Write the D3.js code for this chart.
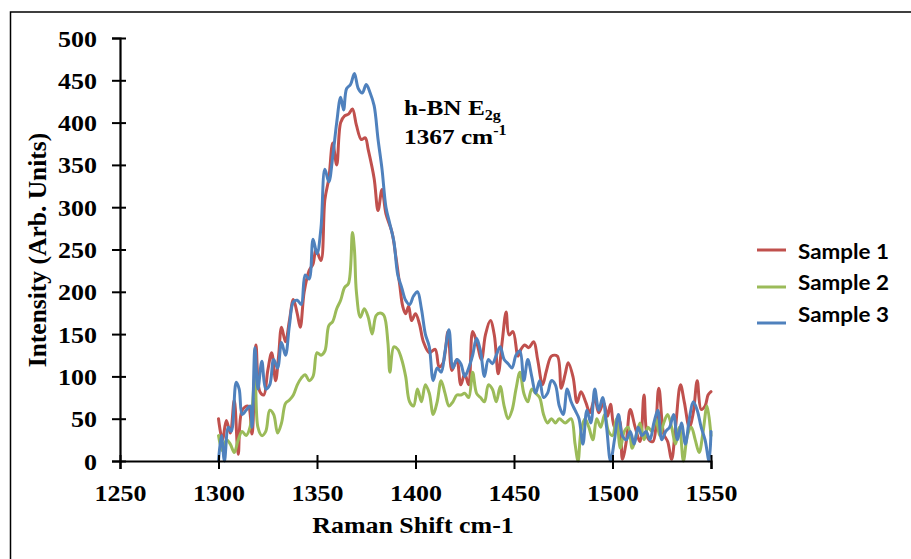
<!DOCTYPE html>
<html>
<head>
<meta charset="utf-8">
<script src="https://cdn.jsdelivr.net/npm/d3@7"></script>
<style>
  body { margin: 0; background: #fff; }
  svg { display: block; }
</style>
</head>
<body>
<svg id="chart" width="911" height="559"></svg>
<script>
// ---- data ----
const sample1Shift = [1300,1302,1304,1306,1308,1310,1312,1315,1317,1319,1321,1323,1325,1327,1329,1330.5,1332,1334,1336,1338,1340,1341.5,1343.5,1346,1348,1349.5,1352,1354,1356,1358,1360,1362,1364,1366,1368,1370,1372.5,1374.5,1376,1379,1381,1383,1385,1388,1390,1392,1393.5,1395,1396.5,1398,1400,1402,1404,1407,1410,1412,1414,1416.5,1418.5,1421,1423,1425,1427,1429,1431,1433.5,1435.5,1438,1440,1442,1444,1446,1447.5,1449.5,1452,1453.5,1455.5,1457.5,1460,1462,1464.5,1466.5,1469,1472,1474,1476,1477.5,1480,1482,1484,1486.5,1488.5,1491,1493,1495.5,1497.5,1499,1501,1503.5,1505,1507,1509,1511.5,1514,1516,1518,1520.5,1523.5,1526,1528,1530,1532,1534.5,1536.5,1539,1541,1543,1545,1547,1548.5,1550];
const sample1Intensity = [50,25,48,33,72,8,60,65,32,137,82,78,107,128,95,124,158,141,166,191,174,158,200,225,233,250,237,309,334,376,350,400,408,410,416,397,380,382,368,334,296,321,292,271,242,208,183,174,183,166,174,162,141,128,132,111,116,153,107,120,90,103,90,153,141,120,149,166,149,103,141,176,149,153,124,132,137,134,141,120,90,107,124,124,86,103,116,99,69,82,69,57,74,57,69,53,67,40,48,2,23,61,40,23,78,27,23,86,32,23,2,40,90,69,40,57,95,61,65,78,82];

const sample2Shift = [1300,1302,1304,1306,1308,1310,1312,1314,1316,1318.5,1320,1322,1324,1326,1328,1330,1332,1334,1336,1338,1340,1342,1344,1346,1348,1350,1352,1354,1356,1358,1360,1362,1364,1366,1368,1369,1370,1372,1374,1376,1378,1380,1382,1384,1386,1387,1389,1391,1393,1395,1397,1399,1401,1403,1405,1407,1409,1411,1413,1415,1417,1419,1421,1423,1425,1427,1429,1431,1433,1435,1437,1439,1441,1443,1445,1447,1449,1451,1453,1455,1457,1459,1461,1463,1465,1467,1469,1471,1473,1476,1479,1481,1482.5,1484,1486,1488,1490,1492,1494,1496,1498,1500,1502,1504,1506,1508,1510,1512,1514,1516,1518,1520,1522,1524,1526,1528,1530,1532,1534,1536,1538,1540,1542,1544,1546,1548,1550];
const sample2Intensity = [30,12,25,20,10,25,35,30,40,100,40,30,35,60,55,33,45,68,72,78,90,98,102,95,100,128,125,130,160,165,180,190,205,210,270,250,200,170,180,170,150,172,175,172,140,105,135,132,120,100,70,65,85,70,90,80,55,70,95,80,65,70,78,78,80,75,105,80,75,70,90,85,70,88,65,50,60,85,105,80,70,85,80,75,55,45,50,45,50,45,50,20,0,35,50,40,25,50,40,55,35,30,50,15,35,40,15,30,45,25,40,35,50,30,45,55,40,20,40,0,30,40,25,10,35,65,30];

const sample3Shift = [1300,1301.5,1303,1305,1306.5,1309,1310.5,1312,1314,1316,1317,1318.5,1320,1322,1324,1326,1328,1330,1332,1334,1336,1338,1340,1342,1344,1346,1348,1350,1352,1354,1356,1358,1360,1362,1363.5,1365,1367,1369,1371,1373,1375,1377,1379,1381,1383,1385,1387,1389,1391,1393,1395,1397,1399,1401,1403,1405,1407,1409,1411,1413,1415,1417,1419,1421,1423,1425,1427,1429,1431,1433,1435,1437,1439,1441,1443,1445,1447,1449,1451,1453,1455,1457,1459,1461,1463,1465,1467,1469,1471,1473,1475,1477,1479,1481,1483,1485,1487,1489,1491,1493,1495,1497,1499,1501,1503,1505,1507,1509,1511,1513,1515,1517,1519,1521,1523,1525,1527,1529,1531,1533,1535,1537,1539,1541,1543,1545,1547,1549,1550];
const sample3Intensity = [0,30,0,40,35,93,85,55,60,65,40,134,85,118,85,90,120,110,140,125,160,188,190,185,220,215,262,245,275,345,330,360,400,430,415,440,445,458,440,435,445,435,420,380,345,300,280,260,220,205,190,185,195,200,180,150,135,95,110,105,130,155,110,120,115,100,110,125,145,130,100,120,115,125,135,120,115,110,125,130,95,120,100,80,95,75,80,95,90,65,55,85,70,60,50,20,60,45,85,60,75,40,0,25,55,30,25,35,20,40,30,35,25,45,60,25,35,40,55,25,45,20,50,70,60,40,25,0,35];

const seriesNames = ["Sample 1", "Sample 2", "Sample 3"];
const seriesColors = ["#C0504D", "#9BBB59", "#4F81BD"];
const xTicks = [1250,1300,1350,1400,1450,1500,1550];
const yTicks = [0,50,100,150,200,250,300,350,400,450,500];

const series = [
  {name: seriesNames[0], color: seriesColors[0], xs: sample1Shift, ys: sample1Intensity},
  {name: seriesNames[1], color: seriesColors[1], xs: sample2Shift, ys: sample2Intensity},
  {name: seriesNames[2], color: seriesColors[2], xs: sample3Shift, ys: sample3Intensity}
];

// ---- layout ----
const svg = d3.select("#chart");
const serif = "'Liberation Serif', 'Times New Roman', serif";
const sans = "Lato, 'Open Sans', 'Liberation Sans', sans-serif";

// outer frame
svg.append("rect").attr("x", 10.5).attr("y", 12).attr("width", 1000).attr("height", 1000)
  .attr("fill", "none").attr("stroke", "#000").attr("stroke-width", 1.5);

const plotLeft = 120, plotRight = 711, plotTop = 38, plotBottom = 461;
const x = d3.scaleLinear().domain([1250, 1550]).range([plotLeft, plotRight]);
const y = d3.scaleLinear().domain([0, 500]).range([plotBottom, plotTop]);

// lines
const line = d3.line().x(d => x(d[0])).y(d => y(d[1])).curve(d3.curveCatmullRom.alpha(0.5));
series.forEach(s => {
  const pts = s.xs.map((v, i) => [v, s.ys[i]]);
  svg.append("path").datum(pts)
    .attr("d", line)
    .attr("fill", "none")
    .attr("stroke", s.color)
    .attr("stroke-width", 3)
    .attr("stroke-linejoin", "round")
    .attr("stroke-linecap", "round");
});

// axes
const xAxis = d3.axisBottom(x).tickValues(xTicks).tickFormat(d3.format("d")).tickSize(8);
const gx = svg.append("g").attr("transform", `translate(0,${plotBottom})`).call(xAxis);
gx.select(".domain").attr("stroke-width", 2.2);
gx.selectAll(".tick line").attr("stroke-width", 2).attr("y1", -6);
gx.selectAll("text")
  .attr("font-family", serif).attr("font-weight", "bold").attr("font-size", 23).attr("fill", "#000")
  .attr("x", 0).attr("y", 0).attr("dy", 0)
  .attr("transform", "translate(0,40) scale(1.13,1)");

const yAxis = d3.axisLeft(y).tickValues(yTicks).tickFormat(d3.format("d")).tickSize(8);
const gy = svg.append("g").attr("transform", `translate(${plotLeft},0)`).call(yAxis);
gy.select(".domain").attr("stroke-width", 2.2);
gy.selectAll(".tick line").attr("stroke-width", 2).attr("x1", 6);
gy.selectAll("text")
  .attr("font-family", serif).attr("font-weight", "bold").attr("font-size", 23).attr("fill", "#000")
  .attr("x", 0).attr("dy", 0).attr("y", 0)
  .attr("transform", "translate(-23,8) scale(1.13,1)");
gx.raise();

// axis titles
svg.append("text").attr("transform", "translate(413,533) scale(1.08,1)").attr("text-anchor", "middle")
  .attr("font-family", serif).attr("font-weight", "bold").attr("font-size", 24)
  .text("Raman Shift cm-1");
svg.append("text").attr("transform", "translate(46,250) rotate(-90)").attr("text-anchor", "middle")
  .attr("font-family", serif).attr("font-weight", "bold").attr("font-size", 25.5)
  .text("Intensity (Arb. Units)");

// annotation
const ann1 = svg.append("text").attr("transform", "translate(404,115) scale(1.15,1)")
  .attr("font-family", serif).attr("font-weight", "bold").attr("font-size", 22);
ann1.append("tspan").text("h-BN E");
ann1.append("tspan").attr("font-size", 14).attr("dy", 5).text("2g");
const ann2 = svg.append("text").attr("transform", "translate(404,144) scale(1.15,1)")
  .attr("font-family", serif).attr("font-weight", "bold").attr("font-size", 22);
ann2.append("tspan").text("1367 cm");
ann2.append("tspan").attr("font-size", 14).attr("dy", -9).text("-1");

// legend
const legendLineY = [250, 287, 323];
const legendTextY = [259, 290, 322];
series.forEach((s, i) => {
  svg.append("line").attr("x1", 757).attr("x2", 786).attr("y1", legendLineY[i]).attr("y2", legendLineY[i])
    .attr("stroke", s.color).attr("stroke-width", 3);
  svg.append("text").attr("transform", `translate(798,${legendTextY[i]}) scale(1.12,1)`)
    .attr("font-family", sans).attr("font-weight", "bold").attr("font-size", 20)
    .text(s.name);
});
</script>
</body>
</html>
